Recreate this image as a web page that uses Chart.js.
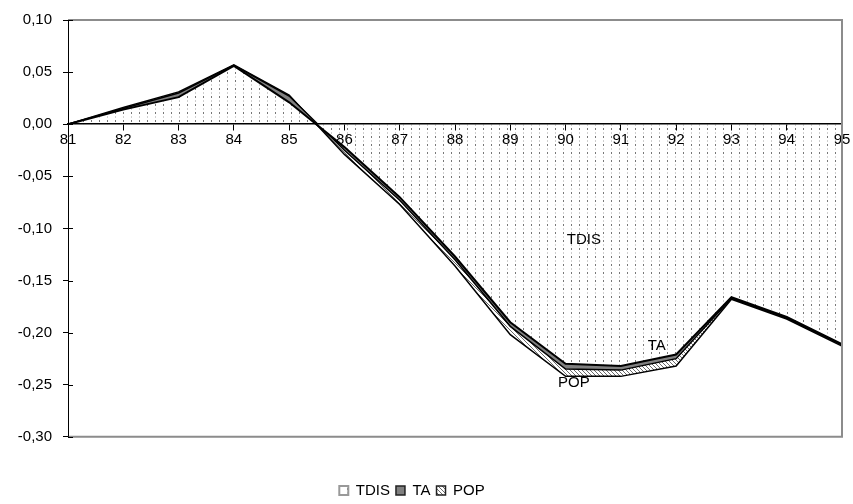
<!DOCTYPE html>
<html><head><meta charset="utf-8">
<script src="https://cdn.jsdelivr.net/npm/chart.js@4/dist/chart.umd.min.js"></script>
<style>html,body{margin:0;padding:0;background:#fff}#wrap{width:853px;height:504px}</style>
</head><body><div id="wrap"><canvas id="c" width="853" height="504"></canvas></div>
<script>
const categories = ['81','82','83','84','85','86','87','88','89','90','91','92','93','94','95'];
const tdisValues = [0, 0.014, 0.026, 0.056, 0.021, -0.022, -0.070, -0.127, -0.190, -0.230, -0.232, -0.221, -0.166, -0.185, -0.211];
const taValues   = [0, 0.001, 0.004, 0.0005, 0.006, -0.003, -0.003, -0.003, -0.004, -0.005, -0.004, -0.004, -0.001, -0.001, -0.001];
const popValues  = [0, 0.001, 0.001, 0.0005, 0.001, -0.004, -0.004, -0.006, -0.008, -0.007, -0.006, -0.007, -0.001, -0.001, -0.001];
const yTickValues = [-0.30, -0.25, -0.20, -0.15, -0.10, -0.05, 0.00, 0.05, 0.10];
const seriesNames = ['TDIS', 'TA', 'POP'];
const annotations = [
  {text: 'TDIS', x: 9.33, y: -0.111},
  {text: 'TA', x: 10.65, y: -0.213},
  {text: 'POP', x: 9.15, y: -0.248}
];

function makePattern(w, h, draw) {
  const c = document.createElement('canvas');
  c.width = w; c.height = h;
  const g = c.getContext('2d');
  g.fillStyle = '#fff'; g.fillRect(0, 0, w, h);
  draw(g);
  return document.getElementById('c').getContext('2d').createPattern(c, 'repeat');
}
const dotPattern = makePattern(8, 8, g => {
  g.fillStyle = '#777'; g.fillRect(3, 0, 1, 2);
  g.fillStyle = '#d0d0d0'; g.fillRect(3, 4, 1, 2);
});
const hatchPattern = makePattern(4, 4, g => {
  g.fillStyle = '#6a6a6a';
  g.fillRect(0, 0, 1, 1); g.fillRect(1, 1, 1, 1); g.fillRect(2, 2, 1, 1); g.fillRect(3, 3, 1, 1);
});

const FONT = 'Liberation Sans, Arial, sans-serif';
const FS = 15;

const decor = {
  id: 'decor',
  afterLayout(chart) {
    if (chart.legend) { chart.legend.left -= 9; chart.legend.right -= 9; }
  },
  afterDraw(chart) {
    const {ctx, chartArea: {left, right, top, bottom}, scales: {x, y}} = chart;
    ctx.save();
    ctx.strokeStyle = '#8c8c8c'; ctx.lineWidth = 2;
    ctx.beginPath();
    ctx.moveTo(left, top); ctx.lineTo(right, top); ctx.lineTo(right, bottom); ctx.lineTo(left, bottom);
    ctx.stroke();
    ctx.strokeStyle = '#000'; ctx.lineWidth = 1;
    ctx.beginPath();
    yTickValues.forEach(v => {
      const py = Math.round(y.getPixelForValue(v)) + 0.5;
      ctx.moveTo(left, py); ctx.lineTo(left + 5, py);
    });
    ctx.moveTo(Math.round(left) + 0.5, top); ctx.lineTo(Math.round(left) + 0.5, bottom);
    ctx.stroke();
    ctx.fillStyle = '#000';
    ctx.font = FS + 'px ' + FONT;
    ctx.textAlign = 'center'; ctx.textBaseline = 'middle';
    annotations.forEach(a => ctx.fillText(a.text, x.getPixelForValue(a.x), y.getPixelForValue(a.y)));
    ctx.restore();
  }
};

new Chart(document.getElementById('c'), {
  type: 'line',
  data: {
    labels: categories,
    datasets: [
      {label: seriesNames[0], data: tdisValues, fill: 'origin', backgroundColor: dotPattern, borderColor: '#000', borderWidth: 2},
      {label: seriesNames[1], data: taValues, fill: '-1', backgroundColor: '#808080', borderColor: '#000', borderWidth: 1.5},
      {label: seriesNames[2], data: popValues, fill: '-1', backgroundColor: hatchPattern, borderColor: '#000', borderWidth: 1.5}
    ]
  },
  options: {
    responsive: false,
    animation: false,
    events: [],
    elements: {point: {radius: 0}, line: {tension: 0}},
    layout: {padding: {top: 19, right: 11, left: 0, bottom: -4}},
    scales: {
      x: {
        position: {y: 0},
        offset: false,
        grid: {display: true, drawOnChartArea: false, drawTicks: true, tickLength: 6, color: '#000', lineWidth: 1, z: 1},
        border: {display: true, color: '#000', width: 1.5, z: 1},
        ticks: {font: {family: FONT, size: FS}, color: '#000', padding: 1, maxRotation: 0, autoSkip: false, z: 1}
      },
      y: {
        stacked: true,
        min: -0.30, max: 0.10,
        afterFit: s => { s.width = 68; },
        afterBuildTicks: s => { s.ticks = yTickValues.map(v => ({value: v})); },
        grid: {display: true, drawOnChartArea: false, drawTicks: true, tickLength: 5, color: '#000', lineWidth: 1, z: 1},
        border: {display: true, color: '#000', width: 1, z: 1},
        ticks: {
          font: {family: FONT, size: FS}, color: '#000', padding: 11, z: 1,
          callback: v => (Math.abs(v) < 1e-9 ? 0 : v).toFixed(2).replace('.', ',')
        }
      }
    },
    plugins: {
      tooltip: {enabled: false},
      legend: {
        position: 'bottom',
        title: {display: true, text: ' ', font: {size: 1}, padding: {top: 39, bottom: 0}},
        labels: {
          font: {family: FONT, size: FS}, color: '#000', boxWidth: 9, boxHeight: 9, padding: 6,
          generateLabels: chart => {
            const items = Chart.defaults.plugins.legend.labels.generateLabels(chart);
            items.forEach((it, i) => {
              it.lineWidth = i === 0 ? 2 : 1.5;
              it.strokeStyle = i === 0 ? '#999' : '#222';
            });
            return items;
          }
        }
      }
    }
  },
  plugins: [decor]
});
</script>
</body></html>
